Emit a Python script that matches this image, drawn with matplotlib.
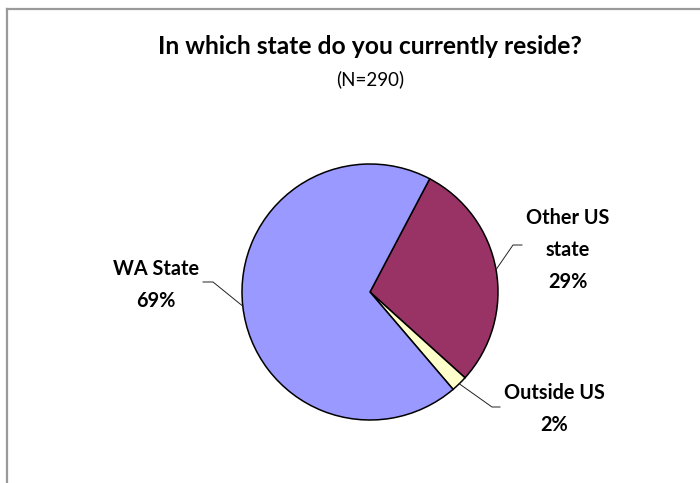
import numpy as np
import matplotlib.pyplot as plt
from matplotlib.lines import Line2D

plt.rcParams['font.family'] = ['Lato', 'DejaVu Sans']

# survey responses (N=290)
labels = ['Other US\nstate', 'Outside US', 'WA State']
counts = [84, 6, 200]
colors = ['#993366', '#FFFFCC', '#9999FF']

W, H = 700, 483
fig = plt.figure(figsize=(W / 100, H / 100), dpi=100)

# chart border (top and left edges visible)
fig.add_artist(Line2D([7 / W, 7 / W], [0, 1 - 8.5 / H], color='#9a9a9a', lw=1.6))
fig.add_artist(Line2D([7 / W, 1], [1 - 8.5 / H, 1 - 8.5 / H], color='#9a9a9a', lw=1.6))

fig.text(370 / W, 1 - 46 / H, 'In which state do you currently reside?',
         ha='center', va='center', fontsize=17.7, fontweight='bold')
fig.text(370 / W, 1 - 79 / H, '(N=290)', ha='center', va='center', fontsize=13.5)

cx, cy, R = 370, 292, 128
ax = fig.add_axes([(cx - R) / W, (H - cy - R) / H, 2 * R / W, 2 * R / H])
wedges, _ = ax.pie(counts, colors=colors, startangle=62.2, counterclock=False,
                   radius=1, wedgeprops=dict(edgecolor='black', linewidth=1.1))
ax.set_xlim(-1, 1)
ax.set_ylim(-1, 1)
ax.axis('off')

total = sum(counts)
# label text centre, leader elbow (pixels)
label_pos = [(568, 250), (554, 409), (156, 285)]
elbows = [((522, 245), (513, 245)), ((500, 407), (492, 407)), ((203, 282), (213, 282))]

def to_data(p):
    return (p[0] - cx) / R, (cy - p[1]) / R

for w, lab, n, pos, (e0, e1) in zip(wedges, labels, counts, label_pos, elbows):
    mid = np.deg2rad((w.theta1 + w.theta2) / 2)
    edge = (np.cos(mid), np.sin(mid))
    a, b = to_data(e0), to_data(e1)
    ax.plot([a[0], b[0], edge[0]], [a[1], b[1], edge[1]], color='#222222',
            lw=0.7, clip_on=False)
    tx, ty = to_data(pos)
    ax.text(tx, ty, f'{lab}\n{round(100 * n / total)}%', ha='center', va='center',
            fontsize=14.3, fontweight='bold', linespacing=1.78)

fig.savefig('out.png', dpi=100)
